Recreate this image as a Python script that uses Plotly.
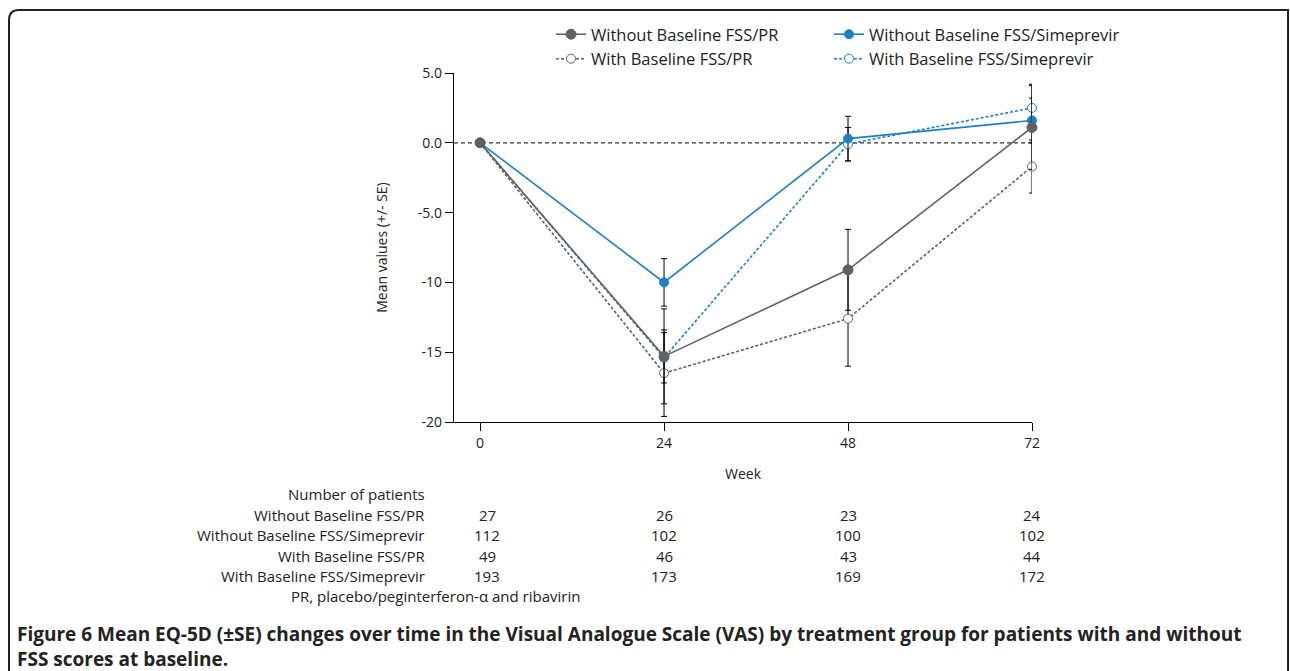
import plotly.graph_objects as go

# ---------------- data ----------------
weeks = [0, 24, 48, 72]
series_names = [
    "Without Baseline FSS/PR",
    "Without Baseline FSS/Simeprevir",
    "With Baseline FSS/PR",
    "With Baseline FSS/Simeprevir",
]
without_pr = [0.0, -15.3, -9.1, 1.1]
without_pr_se = [0.0, 3.4, 2.9, 3.0]
without_sim = [0.0, -10.0, 0.3, 1.6]
without_sim_se = [0.0, 1.7, 1.6, 1.6]
with_pr = [0.0, -16.5, -12.6, -1.7]
with_pr_se = [0.0, 3.1, 3.4, 1.9]
with_sim = [0.0, -15.4, -0.1, 2.5]
with_sim_se = [0.0, 1.8, 1.2, 1.7]

ytick_vals = [5, 0, -5, -10, -15, -20]
ytick_text = ["5.0", "0.0", "-5.0", "-10", "-15", "-20"]

patients_without_pr = [27, 26, 23, 24]
patients_without_sim = [112, 102, 100, 102]
patients_with_pr = [49, 46, 43, 44]
patients_with_sim = [193, 173, 169, 172]

# ---------------- layout geometry ----------------
W, H = 1290, 671
L, R, T, B = 454, 1032, 73, 422


def px(xp):
    return (xp - L) / (R - L)


def py(yp):
    return (B - yp) / (B - T)


GRAY = "#616161"
BLUE = "#1f7fc1"
FONT = "Open Sans, Noto Sans, sans-serif"

fig = go.Figure()

# name, values, se, colour, dash, fill, size, legend, rank  (drawing order: first drawn at bottom)
specs = [
    (series_names[2], with_pr, with_pr_se, GRAY, "3px,2px", "white", 9, "legend", 2),
    (series_names[3], with_sim, with_sim_se, BLUE, "3px,2px", "white", 9, "legend2", 2),
    (series_names[1], without_sim, without_sim_se, BLUE, "solid", BLUE, 9, "legend2", 1),
    (series_names[0], without_pr, without_pr_se, GRAY, "solid", GRAY, 10, "legend", 1),
]
for name, vals, se, col, dash, fill, msize, leg, rank in specs:
    fig.add_trace(go.Scatter(
        x=weeks, y=vals, name=name, mode="lines+markers",
        line=dict(color=col, width=1.6, dash=dash),
        marker=dict(color=fill, size=msize, line=dict(color=col, width=1)),
        error_y=dict(type="data", array=se, visible=True, color="black",
                     thickness=1, width=3),
        cliponaxis=False, legend=leg, legendrank=rank,
    ))

# zero reference line
fig.add_shape(type="line", xref="paper", yref="y", x0=0, x1=1, y0=0, y1=0,
              line=dict(color="#333333", width=1.3, dash="4px,3px"), layer="below")

# frame with rounded top-left corner
fr = 10
path = (f"M {px(9)} {py(700)} L {px(9)} {py(10 + fr)} "
        f"Q {px(9)} {py(10)} {px(9 + fr)} {py(10)} "
        f"L {px(1288)} {py(10)} L {px(1288)} {py(700)}")
fig.add_shape(type="path", xref="paper", yref="paper", path=path,
              line=dict(color="#222222", width=2))

annotations = []
TFS = 15
# patient table
row_labels = ["Number of patients"] + series_names
row_y = [494, 515, 535, 556, 576]
for lab, yy in zip(row_labels, row_y):
    annotations.append(dict(text=lab, xref="paper", yref="paper", x=px(427), y=py(yy),
                            xanchor="right", yanchor="middle", showarrow=False,
                            font=dict(size=TFS, color="#222222", family=FONT)))
table = [patients_without_pr, patients_without_sim, patients_with_pr, patients_with_sim]
for counts, yy in zip(table, row_y[1:]):
    for i, (wk, n) in enumerate(zip(weeks, counts)):
        annotations.append(dict(text=str(n), xref="x", yref="paper", x=wk, y=py(yy),
                                xshift=7 if i == 0 else 0,
                                xanchor="center", yanchor="middle", showarrow=False,
                                font=dict(size=TFS, color="#222222", family=FONT)))
annotations.append(dict(text="PR, placebo/peginterferon-α and ribavirin", xref="paper",
                        yref="paper", x=px(289), y=py(596), xanchor="left", yanchor="middle",
                        showarrow=False, font=dict(size=TFS, color="#222222", family=FONT)))
# caption
annotations.append(dict(
    text="<b>Figure 6 Mean EQ-5D (±SE) changes over time in the Visual Analogue Scale (VAS) by treatment group for patients with and without<br>FSS scores at baseline.</b>",
    xref="paper", yref="paper", x=px(15), y=py(619), xanchor="left", yanchor="top",
    align="left", showarrow=False,
    font=dict(size=19, color="#222222", family=FONT)))

leg_common = dict(orientation="v", yanchor="top", xanchor="left",
                  font=dict(size=16.5, color="#222222", family=FONT),
                  bgcolor="rgba(0,0,0,0)", traceorder="normal")

fig.update_layout(
    width=W, height=H,
    margin=dict(l=L, r=W - R, t=T, b=H - B),
    paper_bgcolor="white", plot_bgcolor="white",
    font=dict(family=FONT, color="#222222"),
    showlegend=True,
    legend=dict(x=px(551), y=py(17), **leg_common),
    legend2=dict(x=px(829), y=py(17), **leg_common),
    xaxis=dict(range=[-3.4, 72], tickvals=weeks, ticktext=[str(w) for w in weeks],
               showgrid=False, zeroline=False, showline=True, linecolor="black",
               linewidth=1.3, ticks="outside", ticklen=8, tickcolor="black",
               tickfont=dict(size=14), title=dict(text="Week", font=dict(size=14), standoff=18)),
    yaxis=dict(range=[-20, 5], tickvals=ytick_vals, ticktext=ytick_text,
               showgrid=False, zeroline=False, showline=True, linecolor="black",
               linewidth=1.3, ticks="outside", ticklen=8, tickcolor="black",
               tickfont=dict(size=14),
               title=dict(text="Mean values (+/- SE)", font=dict(size=14), standoff=26)),
    annotations=annotations,
)

fig.write_html("out.html", post_script="document.body.style.margin='0';",
               config={"displayModeBar": False})
